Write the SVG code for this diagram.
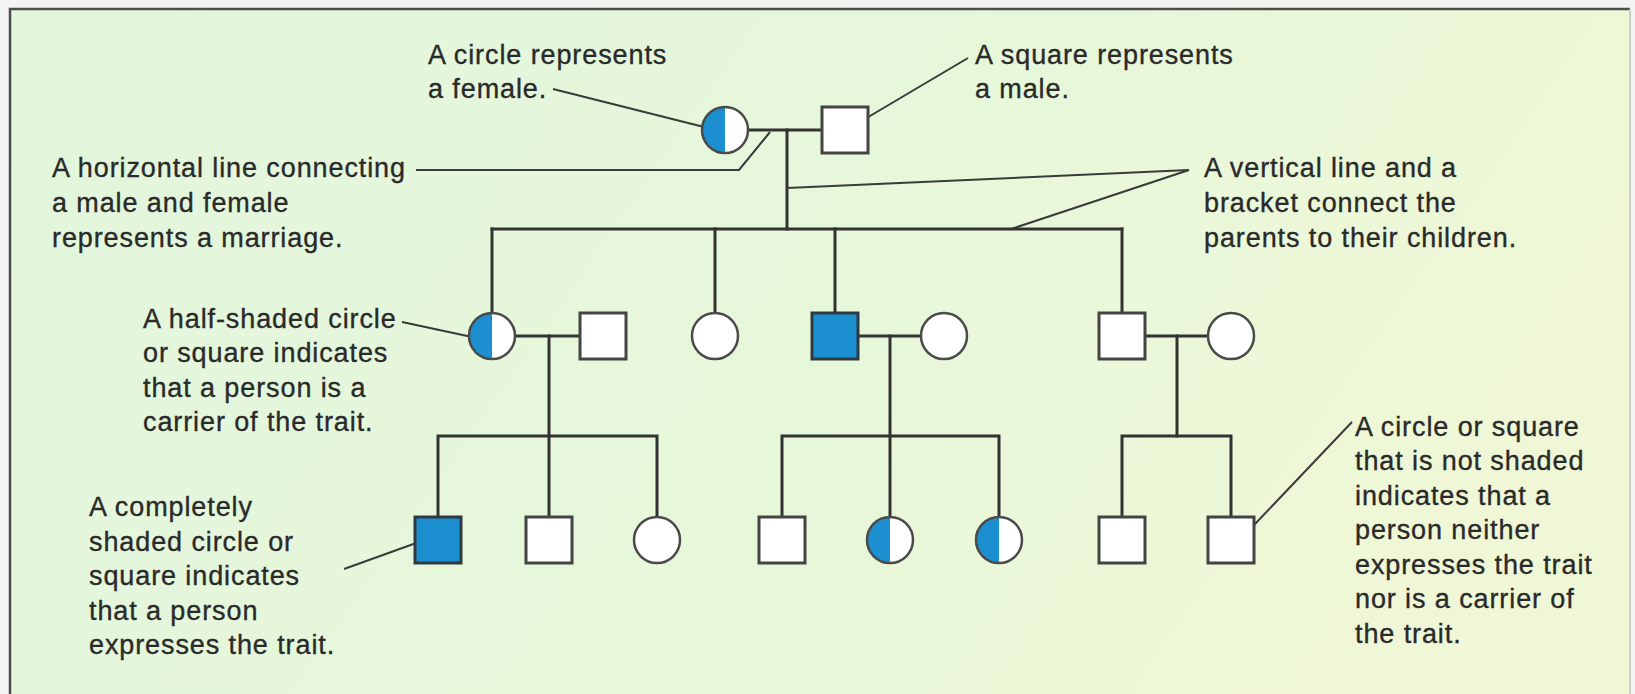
<svg xmlns="http://www.w3.org/2000/svg" width="1635" height="694" viewBox="0 0 1635 694">
  <defs>
    <linearGradient id="bg" x1="0" y1="0" x2="1" y2="0.3">
      <stop offset="0" stop-color="#e2f6dc"/>
      <stop offset="0.6" stop-color="#e7f7da"/>
      <stop offset="1" stop-color="#eff7d6"/>
    </linearGradient>
    <style>
      .lbl { font-family: "Liberation Sans", Arial, sans-serif; font-size: 27px; letter-spacing: 0.9px; fill: #2a2a2a; stroke: #2a2a2a; stroke-width: 0.35px; }
      .wire { fill: none; stroke: #333; stroke-width: 3; stroke-linecap: square; }
      .lead { fill: none; stroke: #3a3a3a; stroke-width: 2; }
      .sq { fill: #ffffff; stroke: #444; stroke-width: 3; }
      .sq.aff { fill: #1b8fd0; stroke: #2f3a40; }
      .ci { fill: #ffffff; stroke: #4a4a4a; stroke-width: 2.5; }
      .half { fill: #1b8fd0; }
    </style>
    <!-- female: radius 23 circle -->
    <circle id="female" r="23" class="ci"/>
    <!-- carrier female: left half shaded -->
    <g id="femaleCarrier">
      <circle r="23" fill="#ffffff"/>
      <path class="half" d="M0,-23 A23,23 0 0,0 0,23 Z"/>
      <circle r="23" fill="none" stroke="#4a4a4a" stroke-width="2.5"/>
    </g>
  </defs>

  <!-- page and panel -->
  <rect x="0" y="0" width="1635" height="694" fill="#f3f4f1"/>
  <rect x="10" y="9" width="1620" height="700" fill="url(#bg)"/>
  <path d="M10,700 L10,9 L1630,9" fill="none" stroke="#4d4d4d" stroke-width="2.5"/>
  <path d="M1630,9 L1630,700" fill="none" stroke="#c9cdc4" stroke-width="2"/>

  <!-- connectors -->
  <g id="connectors">
    <!-- generation I marriage and descent -->
    <path class="wire" d="M748,130 H822"/>
    <path class="wire" d="M787,130 V229"/>
    <path class="wire" d="M492,229 H1122"/>
    <path class="wire" d="M492,229 V313"/>
    <path class="wire" d="M715,229 V313"/>
    <path class="wire" d="M835,229 V313"/>
    <path class="wire" d="M1122,229 V313"/>
    <!-- generation II marriages -->
    <path class="wire" d="M515,336 H580"/>
    <path class="wire" d="M858,336 H921"/>
    <path class="wire" d="M1145,336 H1208"/>
    <!-- generation II descent lines -->
    <path class="wire" d="M549,336 V517"/>
    <path class="wire" d="M890,336 V517"/>
    <path class="wire" d="M1177,336 V436"/>
    <!-- sibling brackets -->
    <path class="wire" d="M438,517 V436 H657 V517"/>
    <path class="wire" d="M782,517 V436 H999 V517"/>
    <path class="wire" d="M1122,517 V436 H1231 V517"/>

    <!-- label leaders -->
    <path class="lead" d="M553,89 L704,127"/>
    <path class="lead" d="M968,58 L848,129"/>
    <path class="lead" d="M416,170 H739 L770,132"/>
    <path class="lead" d="M1189,170 L787,188"/>
    <path class="lead" d="M1189,170 L1011,229"/>
    <path class="lead" d="M402,322 L472,337"/>
    <path class="lead" d="M344,569 L419,542"/>
    <path class="lead" d="M1352,422 L1236,544"/>
  </g>

  <!-- generation I -->
  <g id="g1-mother"><use href="#femaleCarrier" x="725" y="130"/></g>
  <g id="g1-father"><rect class="sq" x="822" y="107" width="46" height="46"/></g>

  <!-- generation II -->
  <g id="g2-daughter"><use href="#femaleCarrier" x="492" y="336"/></g>
  <g id="g2-son-in-law"><rect class="sq" x="580" y="313" width="46" height="46"/></g>
  <g id="g2-daughter2"><use href="#female" x="715" y="336"/></g>
  <g id="g2-son"><rect class="sq aff" x="812" y="313" width="46" height="46"/></g>
  <g id="g2-daughter-in-law"><use href="#female" x="944" y="336"/></g>
  <g id="g2-son2"><rect class="sq" x="1099" y="313" width="46" height="46"/></g>
  <g id="g2-daughter-in-law2"><use href="#female" x="1231" y="336"/></g>

  <!-- generation III -->
  <g id="g3-a1"><rect class="sq aff" x="415" y="517" width="46" height="46"/></g>
  <g id="g3-a2"><rect class="sq" x="526" y="517" width="46" height="46"/></g>
  <g id="g3-a3"><use href="#female" x="657" y="540"/></g>
  <g id="g3-b1"><rect class="sq" x="759" y="517" width="46" height="46"/></g>
  <g id="g3-b2"><use href="#femaleCarrier" x="890" y="540"/></g>
  <g id="g3-b3"><use href="#femaleCarrier" x="999" y="540"/></g>
  <g id="g3-c1"><rect class="sq" x="1099" y="517" width="46" height="46"/></g>
  <g id="g3-c2"><rect class="sq" x="1208" y="517" width="46" height="46"/></g>

  <!-- labels -->
  <g id="label-female">
    <text class="lbl" x="428" y="64">A circle represents</text>
    <text class="lbl" x="428" y="98">a female.</text>
  </g>
  <g id="label-male">
    <text class="lbl" x="975" y="64">A square represents</text>
    <text class="lbl" x="975" y="98">a male.</text>
  </g>
  <g id="label-marriage">
    <text class="lbl" x="52" y="177">A horizontal line connecting</text>
    <text class="lbl" x="52" y="212">a male and female</text>
    <text class="lbl" x="52" y="247">represents a marriage.</text>
  </g>
  <g id="label-bracket">
    <text class="lbl" x="1204" y="177">A vertical line and a</text>
    <text class="lbl" x="1204" y="212">bracket connect the</text>
    <text class="lbl" x="1204" y="247">parents to their children.</text>
  </g>
  <g id="label-carrier">
    <text class="lbl" x="143" y="328">A half-shaded circle</text>
    <text class="lbl" x="143" y="362">or square indicates</text>
    <text class="lbl" x="143" y="397">that a person is a</text>
    <text class="lbl" x="143" y="431">carrier of the trait.</text>
  </g>
  <g id="label-affected">
    <text class="lbl" x="89" y="516">A completely</text>
    <text class="lbl" x="89" y="551">shaded circle or</text>
    <text class="lbl" x="89" y="585">square indicates</text>
    <text class="lbl" x="89" y="620">that a person</text>
    <text class="lbl" x="89" y="654">expresses the trait.</text>
  </g>
  <g id="label-unaffected">
    <text class="lbl" x="1355" y="436">A circle or square</text>
    <text class="lbl" x="1355" y="470">that is not shaded</text>
    <text class="lbl" x="1355" y="505">indicates that a</text>
    <text class="lbl" x="1355" y="539">person neither</text>
    <text class="lbl" x="1355" y="574">expresses the trait</text>
    <text class="lbl" x="1355" y="608">nor is a carrier of</text>
    <text class="lbl" x="1355" y="643">the trait.</text>
  </g>
</svg>
